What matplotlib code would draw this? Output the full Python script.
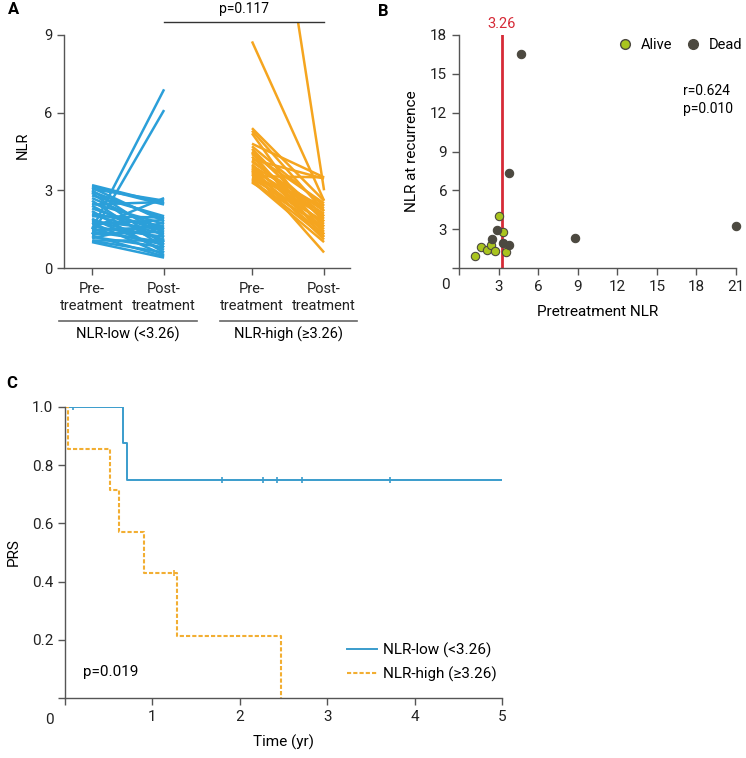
"""NLR panels: paired pre/post lines, scatter vs recurrence, and KM curves."""

import matplotlib

matplotlib.use("Agg")
import matplotlib.pyplot as plt
from matplotlib.lines import Line2D

plt.rcParams["font.family"] = ["Roboto", "DejaVu Sans"]

# ---- Panel A data: NLR before / after treatment ----
low_pre = [3.2, 3.15, 3.1, 3.05, 3.0, 2.95, 2.9, 2.8, 2.7, 2.6, 2.5, 2.45, 2.4,
           2.3, 2.2, 2.1, 2.05, 2.0, 1.9, 1.85, 1.8, 1.75, 1.7, 1.6, 1.55, 1.5,
           1.45, 1.4, 1.3, 1.25, 1.2, 1.15, 1.1, 1.05, 1.0, 1.5, 1.3]
low_post = [2.5, 2.45, 1.8, 2.6, 1.2, 1.9, 0.9, 2.0, 1.5, 0.8, 1.7, 2.55, 1.0,
            1.4, 0.6, 1.6, 1.3, 1.95, 0.7, 1.1, 1.5, 0.5, 1.85, 1.2, 2.7, 0.9,
            1.6, 1.0, 1.4, 0.45, 0.8, 1.75, 1.1, 0.6, 0.4, 6.9, 6.1]
high_pre = [5.4, 5.3, 5.2, 4.8, 4.7, 4.6, 4.5, 4.45, 4.4, 4.3, 4.2, 4.15, 4.1,
            4.0, 3.95, 3.9, 3.85, 3.8, 3.75, 3.7, 3.65, 3.6, 3.55, 3.5, 3.45,
            3.4, 3.35, 3.3, 8.75, 21.0]
high_post = [2.6, 2.2, 1.3, 3.5, 2.4, 1.8, 2.0, 1.2, 2.5, 1.6, 3.45, 1.9, 2.2,
             1.4, 2.3, 1.7, 1.1, 2.1, 0.6, 1.5, 2.0, 1.3, 3.5, 2.4, 1.8, 1.2,
             1.0, 1.6, 2.6, 3.0]
a_ticklabels = ["Pre-\ntreatment", "Post-\ntreatment", "Pre-\ntreatment", "Post-\ntreatment"]
group_labels = ["NLR-low (<3.26)", "NLR-high (\u22653.26)"]

# ---- Panel B data: pretreatment NLR vs NLR at recurrence ----
alive_x = [1.2, 1.7, 2.1, 2.4, 2.75, 3.0, 3.3, 3.6]
alive_y = [0.95, 1.6, 1.4, 1.8, 1.35, 4.0, 2.8, 1.25]
dead_x = [4.7, 3.8, 2.9, 2.5, 3.3, 3.8, 8.8, 21.0]
dead_y = [16.5, 7.35, 2.95, 2.25, 1.95, 1.75, 2.35, 3.25]
cutoff = 3.26

# ---- Panel C data: Kaplan-Meier steps ----
low_t = [0, 0.66, 0.71, 5.0]
low_s = [1.0, 0.875, 0.75, 0.75]
low_cens_t = [0.09, 1.80, 2.27, 2.42, 2.71, 3.72]
low_cens_s = [1.0, 0.75, 0.75, 0.75, 0.75, 0.75]
high_t = [0, 0.03, 0.51, 0.62, 0.90, 1.28, 2.47]
high_s = [1.0, 0.857, 0.714, 0.571, 0.429, 0.214, 0.0]
high_cens_t = [1.25]
high_cens_s = [0.429]

BLUE = "#2b9fd9"
ORANGE = "#f5a51f"
KM_BLUE = "#3a9ccc"
KM_ORANGE = "#f2ae32"
GREEN = "#a9c41e"
DARK = "#4c4940"
RED = "#d62a37"
AX = "#555555"

fig = plt.figure(figsize=(7.46, 7.58), dpi=100)


def style_axes(ax, size=10.5):
    for s in ("top", "right"):
        ax.spines[s].set_visible(False)
    for s in ("left", "bottom"):
        ax.spines[s].set_color(AX)
        ax.spines[s].set_linewidth(1.0)
    ax.tick_params(colors=AX, labelcolor="#222222", length=5, width=1.0, labelsize=size)


# ---------------- Panel A ----------------
axA = fig.add_axes([64 / 746, 1 - 268 / 758, 286 / 746, 246 / 758])
style_axes(axA)
pos = [1.0, 2.0, 3.22, 4.22]
for a, b in zip(low_pre, low_post):
    axA.plot([pos[0], pos[1]], [a, b], color=BLUE, lw=1.8, solid_capstyle="butt")
for a, b in zip(high_pre, high_post):
    axA.plot([pos[2], pos[3]], [a, b], color=ORANGE, lw=1.8, solid_capstyle="butt")
axA.set_xlim(0.611, 4.58)
axA.set_ylim(0, 9.5)
axA.spines["left"].set_bounds(0, 9)
axA.set_yticks([0, 3, 6, 9])
axA.set_xticks(pos, labels=a_ticklabels)
axA.tick_params(axis="x", labelsize=10.5, pad=5)
for lab in axA.get_xticklabels():
    lab.set_linespacing(1.3)
axA.set_ylabel("NLR", fontsize=10.5, labelpad=10)
axA.plot([pos[1], pos[3]], [9.5, 9.5], color="#333333", lw=1.0, clip_on=False)
axA.text((pos[1] + pos[3]) / 2, 9.75, "p=0.117", ha="center", va="bottom", fontsize=10)
trA = axA.get_xaxis_transform()
for (x0, x1), lab in zip([(0.542, 2.458), (2.778, 4.68)], group_labels):
    axA.plot([x0, x1], [-0.217, -0.217], color="#666666", lw=1.2, transform=trA, clip_on=False)
    axA.text((x0 + x1) / 2, -0.237, lab, transform=trA, ha="center", va="top", fontsize=10.5)
fig.text(8 / 746, 1 - 10 / 758, "A", fontsize=12, fontweight="bold", va="center")

# ---------------- Panel B ----------------
axB = fig.add_axes([459 / 746, 1 - 268 / 758, 277 / 746, 233 / 758])
style_axes(axB, 11)
axB.axvline(cutoff, color=RED, lw=2.0, zorder=1)
axB.text(cutoff, 18.3, f"{cutoff:.2f}", color=RED, ha="center", va="bottom", fontsize=10.5)
axB.scatter(alive_x, alive_y, s=36, color=GREEN, edgecolor=DARK, linewidth=0.8, zorder=3, clip_on=False)
axB.scatter(dead_x, dead_y, s=36, color=DARK, edgecolor=DARK, linewidth=0.8, zorder=3, clip_on=False)
axB.set_xlim(0, 21)
axB.set_ylim(0, 18)
axB.set_xticks([0, 3, 6, 9, 12, 15, 18, 21], labels=["", "3", "6", "9", "12", "15", "18", "21"])
axB.set_yticks([0, 3, 6, 9, 12, 15, 18], labels=["", "3", "6", "9", "12", "15", "18"])
axB.text(-0.035, -0.045, "0", transform=axB.transAxes, ha="right", va="top", fontsize=11, color="#222222")
axB.set_xlabel("Pretreatment NLR", fontsize=11, labelpad=8)
axB.set_ylabel("NLR at recurrence", fontsize=11, labelpad=8)
axB.text(0.81, 0.72, "r=0.624\np=0.010", transform=axB.transAxes, ha="left", va="center",
         fontsize=10, linespacing=1.35)
handles = [
    Line2D([], [], marker="o", ls="", markersize=7, markerfacecolor=GREEN, markeredgecolor=DARK, label="Alive"),
    Line2D([], [], marker="o", ls="", markersize=7, markerfacecolor=DARK, markeredgecolor=DARK, label="Dead"),
]
axB.legend(handles=handles, ncol=2, frameon=False, loc="upper right", bbox_to_anchor=(1.07, 1.045),
           handletextpad=0.1, columnspacing=0.4, fontsize=10.5)
fig.text(378 / 746, 1 - 12 / 758, "B", fontsize=12, fontweight="bold", va="center")

# ---------------- Panel C ----------------
axC = fig.add_axes([65 / 746, 1 - 698 / 758, 437 / 746, 291 / 758])
style_axes(axC, 11)
axC.step(low_t, low_s, where="post", color=KM_BLUE, lw=1.4, label=group_labels[0])
axC.step(high_t, high_s, where="post", color=KM_ORANGE, lw=1.5, ls=(0, (2, 1)), label=group_labels[1])
axC.plot(low_cens_t, low_cens_s, ls="", marker="|", markersize=5, color=KM_BLUE, mew=1.2)
axC.plot(high_cens_t, high_cens_s, ls="", marker="|", markersize=5, color=KM_ORANGE, mew=1.2)
axC.set_xlim(0, 5)
axC.set_ylim(0, 1.0)
axC.set_xticks([0, 1, 2, 3, 4, 5], labels=["", "1", "2", "3", "4", "5"])
axC.set_yticks([0, 0.2, 0.4, 0.6, 0.8, 1.0], labels=["", "0.2", "0.4", "0.6", "0.8", "1.0"])
axC.text(-0.025, -0.05, "0", transform=axC.transAxes, ha="right", va="top", fontsize=11, color="#222222")
axC.set_xlabel("Time (yr)", fontsize=11, labelpad=8)
axC.set_ylabel("PRS", fontsize=11, labelpad=8)
axC.text(0.041, 0.089, "p=0.019", transform=axC.transAxes, fontsize=11, va="center")
axC.legend(loc="lower right", bbox_to_anchor=(1.02, 0.008), frameon=False, fontsize=11,
           handlelength=2.0, handletextpad=0.4, labelspacing=0.55)
fig.text(6 / 746, 1 - 384 / 758, "C", fontsize=12, fontweight="bold", va="center")

fig.savefig("out.png", dpi=100)
